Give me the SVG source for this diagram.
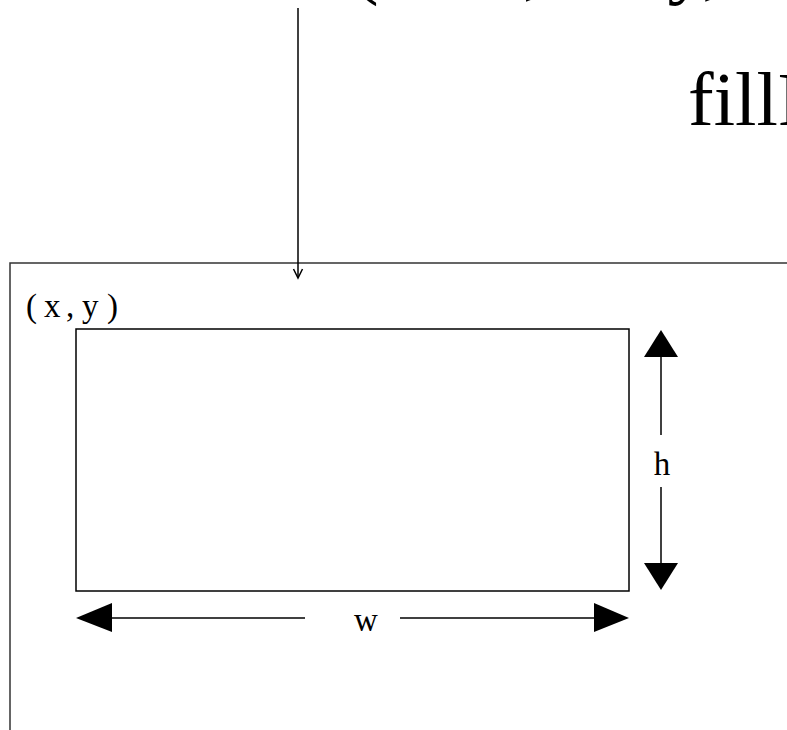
<svg xmlns="http://www.w3.org/2000/svg" width="787" height="730" viewBox="0 0 787 730">
<style>
.big{font-family:"Liberation Serif","Times New Roman",serif;font-size:80px;fill:#000}
.lbl{font-family:"Liberation Serif","Times New Roman",serif;font-size:32px;fill:#000}
.line{stroke:#000;stroke-width:1.5;fill:none}
.head{fill:#000;stroke:none}
</style>
<rect width="787" height="730" fill="#fff"/>
<g id="title">
<text class="big" x="352" y="-11">(int x, int y,</text>
<text class="big" x="688" y="125" style="font-size:77px">fillR</text>
</g>
<g id="outer">
<polyline points="800,263 10,263 10,740" fill="none" stroke="#333" stroke-width="1.5"/>
<text class="lbl" y="317" x="26 44 66 82 107" style="font-size:33px">(x,y)</text>
</g>
<g id="rect">
<rect x="76" y="329" width="553" height="262" fill="none" stroke="#000" stroke-width="1.5"/>
</g>
<g id="labels">
<text class="lbl" x="662" y="475" text-anchor="middle" style="font-size:33px">h</text>
<text class="lbl" x="366" y="631" text-anchor="middle" style="font-size:33px">w</text>
</g>
<g id="connectors">
<line class="line" x1="298" y1="8" x2="298" y2="277"/>
<polyline points="293.5,269 298,278 302.5,269" fill="none" stroke="#000" stroke-width="1.5"/>
<line class="line" x1="661" y1="356" x2="661" y2="435"/>
<line class="line" x1="661" y1="487" x2="661" y2="564"/>
<polygon class="head" points="661,330 644,357 678,357"/>
<polygon class="head" points="661,590 644,563 678,563"/>
<line class="line" x1="111" y1="618" x2="305" y2="618"/>
<line class="line" x1="400" y1="618" x2="596" y2="618"/>
<polygon class="head" points="76,618 112,603 112,632"/>
<polygon class="head" points="629,618 594,603 594,632"/>
</g>
</svg>
